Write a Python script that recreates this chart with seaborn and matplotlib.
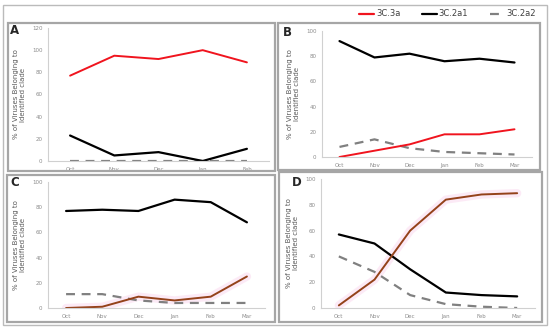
import matplotlib
matplotlib.use("Agg")
import matplotlib.pyplot as plt
from matplotlib.lines import Line2D
from matplotlib.patches import Rectangle
import pandas as pd
import seaborn as sns

months_a = ["Oct", "Nov", "Dec", "Jan", "Feb"]
months_b = ["Oct", "Nov", "Dec", "Jan", "Feb", "Mar"]

a_3c3a = [77, 95, 92, 100, 89]
a_2a1 = [23, 5, 8, 0, 11]
a_2a2 = [0, 0, 0, 0, 0]

b_3c3a = [0, 5, 10, 18, 18, 22]
b_2a1 = [92, 79, 82, 76, 78, 75]
b_2a2 = [8, 14, 7, 4, 3, 2]

c_3c3a = [0, 1, 9, 6, 9, 25]
c_2a1 = [77, 78, 77, 86, 84, 68]
c_2a2 = [11, 11, 6, 4, 4, 4]

d_3c3a = [2, 22, 60, 84, 88, 89]
d_2a1 = [57, 50, 30, 12, 10, 9]
d_2a2 = [40, 28, 10, 3, 1, 0]

RED = "#F0141E"
BROWN = "#94421A"
GRAY = "#808080"
W, H = 550, 331

sns.set_style("white")
fig = plt.figure(figsize=(5.5, 3.31), dpi=100)


def px_rect(x0, y0, x1, y1):
    return [x0 / W, 1 - y1 / H, (x1 - x0) / W, (y1 - y0) / H]


def box(x0, y0, x1, y1, color, lw):
    fig.patches.append(Rectangle((x0 / W, 1 - y1 / H), (x1 - x0) / W, (y1 - y0) / H,
                                 transform=fig.transFigure, fill=False,
                                 edgecolor=color, linewidth=lw))


box(3, 5, 547, 325, "#BBBBBB", 1.0)
box(8, 23, 275, 171, "#A6A6A6", 1.6)
box(278, 23, 540, 170, "#A6A6A6", 1.6)
box(7, 175, 275, 322, "#A6A6A6", 1.6)
box(279, 172, 542, 322, "#A6A6A6", 1.6)


def panel(rect, months, red, black, dashed, ymax, letter, lpos, red_color, glow=False):
    ax = fig.add_axes(px_rect(*rect))
    df = pd.DataFrame({"month": months, "red": red, "black": black, "dashed": dashed})
    if glow:
        sns.lineplot(data=df, x="month", y="red", ax=ax, color="#FBDDF0",
                     linewidth=6, alpha=0.6, sort=False)
    sns.lineplot(data=df, x="month", y="dashed", ax=ax, color=GRAY,
                 linewidth=1.6, sort=False, linestyle=(0, (4, 3)))
    sns.lineplot(data=df, x="month", y="black", ax=ax, color="black",
                 linewidth=1.6, sort=False)
    sns.lineplot(data=df, x="month", y="red", ax=ax, color=red_color,
                 linewidth=1.4, sort=False)
    ax.set_xlim(-0.5, len(months) - 0.5)
    ax.set_ylim(0, ymax)
    ax.set_yticks(range(0, ymax + 1, 20))
    ax.set_xlabel("")
    ax.set_ylabel("% of Viruses Belonging to\nIdentified clade", fontsize=5,
                  color="#595959", labelpad=4)
    ax.tick_params(labelsize=4, colors="#8C8C8C", length=2, width=0.6, pad=2)
    for side in ["top", "right"]:
        ax.spines[side].set_visible(False)
    for side in ["left", "bottom"]:
        ax.spines[side].set_color("#D0D0D0")
        ax.spines[side].set_linewidth(0.8)
    fig.text(lpos[0] / W, 1 - lpos[1] / H, letter, fontsize=8.5, fontweight="bold",
             ha="center", va="center")
    return ax


panel((48, 28, 269, 161), months_a, a_3c3a, a_2a1, a_2a2, 120, "A", (15, 30), RED)
panel((322, 31, 532, 157), months_b, b_3c3a, b_2a1, b_2a2, 100, "B", (287, 33), RED)
panel((48, 182, 265, 308), months_b, c_3c3a, c_2a1, c_2a2, 100, "C", (15, 183), BROWN, glow=True)
panel((321, 179, 535, 308), months_b, d_3c3a, d_2a1, d_2a2, 100, "D", (297, 182), BROWN, glow=True)

handles = [
    Line2D([], [], color=RED, linewidth=1.6),
    Line2D([], [], color="black", linewidth=1.6),
    Line2D([], [], color=GRAY, linewidth=1.6, linestyle=(0, (4, 3))),
]
fig.legend(handles, ["3C.3a", "3C.2a1", "3C.2a2"], loc="center right",
           bbox_to_anchor=(536 / W, 1 - 14 / H), ncol=3, frameon=False,
           fontsize=6, labelcolor="#404040", handlelength=1.8, handletextpad=0.2,
           columnspacing=2.6, borderaxespad=0, borderpad=0)

fig.savefig("out.png", dpi=100)
